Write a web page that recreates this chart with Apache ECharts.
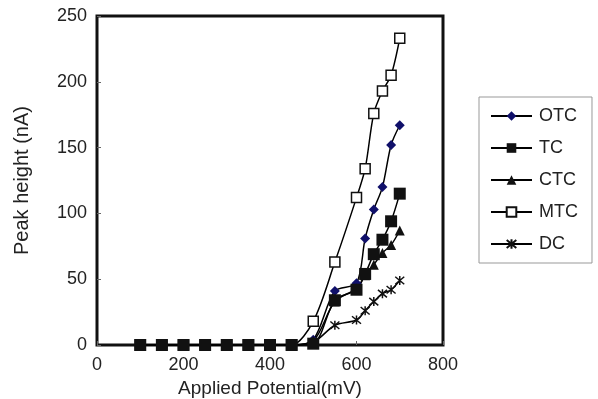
<!DOCTYPE html>
<html>
<head>
<meta charset="utf-8">
<script src="https://cdn.jsdelivr.net/npm/echarts@6/dist/echarts.min.js"></script>
<style>
  html, body { margin: 0; padding: 0; background: #fff; }
  #chart { width: 598px; height: 399px; }
</style>
</head>
<body>
<div id="chart"></div>
<script>
// applied potential (mV) for each series
const xZero = [100, 150, 200, 250, 300, 350, 400, 450]
const xOTC = [...xZero, 500, 550, 600, 620, 640, 660, 680, 700]
const xTC = [...xZero, 500, 550, 600, 620, 640, 660, 680, 700]
const xCTC = [...xZero, 500, 550, 600, 620, 640, 660, 680, 700]
const xMTC = [...xZero, 500, 550, 600, 620, 640, 660, 680, 700]
const xDC = [...xZero, 500, 550, 600, 620, 640, 660, 680, 700]

// peak height (nA)
const otc = [0, 0, 0, 0, 0, 0, 0, 0, 4, 41, 47, 81, 103, 120, 152, 167]
const tc = [0, 0, 0, 0, 0, 0, 0, 0, 1, 34, 42, 54, 69, 80, 94, 115]
const ctc = [0, 0, 0, 0, 0, 0, 0, 0, 3, 33, 43, 53, 61, 70, 76, 87]
const mtc = [0, 0, 0, 0, 0, 0, 0, 0, 18, 63, 112, 134, 176, 193, 205, 233]
const dc = [0, 0, 0, 0, 0, 0, 0, 0, 2, 15, 19, 26, 33, 39, 42, 49]

const xTicks = [0, 200, 400, 600, 800]
const yTicks = [0, 50, 100, 150, 200, 250]

const pairs = (xs, ys) => xs.map((x, i) => [x, ys[i]])
const font = 'Liberation Sans, Arial, sans-serif'
const star = 'path://M0,0L10,10M10,0L0,10M5,-1L5,11'

const chart = echarts.init(document.getElementById('chart'))

const base = {
  type: 'line',
  smooth: 0.3,
  lineStyle: { color: '#000', width: 1.5 },
}

chart.setOption({
  animation: false,
  grid: {
    left: 97, right: 155, top: 16, bottom: 54,
    outerBoundsMode: 'none',
    show: true, borderColor: '#111', borderWidth: 3,
  },
  legend: {
    orient: 'vertical',
    left: 479,
    top: 97,
    padding: [10, 14, 10, 11],
    data: ['OTC', 'TC', 'CTC', 'MTC', 'DC'],
    borderColor: '#999',
    borderWidth: 1,
    itemWidth: 41,
    itemHeight: 12,
    itemGap: 14,
    textStyle: { fontFamily: font, fontSize: 18, color: '#222', padding: [0, 0, 0, 2] },
  },
  xAxis: {
    type: 'value',
    min: xTicks[0],
    max: xTicks[xTicks.length - 1],
    interval: 200,
    name: 'Applied Potential(mV)',
    nameLocation: 'middle',
    nameGap: 30,
    nameTextStyle: { fontFamily: font, fontSize: 19, color: '#222' },
    axisLine: { show: false },
    axisTick: { inside: true, length: 4, lineStyle: { color: '#666' } },
    axisLabel: { fontFamily: font, fontSize: 18, color: '#222', margin: 11 },
    splitLine: { show: false },
  },
  yAxis: {
    type: 'value',
    min: yTicks[0],
    max: yTicks[yTicks.length - 1],
    interval: 50,
    name: 'Peak height (nA)',
    nameLocation: 'middle',
    nameGap: 65,
    nameTextStyle: { fontFamily: font, fontSize: 20, color: '#222' },
    axisLine: { show: false },
    axisTick: { inside: true, length: 4, lineStyle: { color: '#666' } },
    axisLabel: { fontFamily: font, fontSize: 18, color: '#222', margin: 10 },
    splitLine: { show: false },
  },
  series: [
    {
      ...base,
      name: 'OTC',
      data: pairs(xOTC, otc),
      symbol: 'diamond',
      symbolSize: 10,
      itemStyle: { color: '#10106a' },
    },
    {
      ...base,
      name: 'CTC',
      data: pairs(xCTC, ctc),
      symbol: 'triangle',
      symbolSize: 10,
      itemStyle: { color: '#111' },
    },
    {
      ...base,
      name: 'MTC',
      data: pairs(xMTC, mtc),
      symbol: 'rect',
      symbolSize: 10,
      itemStyle: { color: '#fff', borderColor: '#111', borderWidth: 1.5 },
    },
    {
      ...base,
      name: 'DC',
      data: pairs(xDC, dc),
      symbol: star,
      symbolSize: 9,
      itemStyle: { color: 'none', borderColor: '#111', borderWidth: 1.5 },
    },
    {
      ...base,
      name: 'TC',
      data: pairs(xTC, tc),
      symbol: 'rect',
      symbolSize: 12,
      itemStyle: { color: '#111' },
    },
  ],
})
</script>
</body>
</html>
